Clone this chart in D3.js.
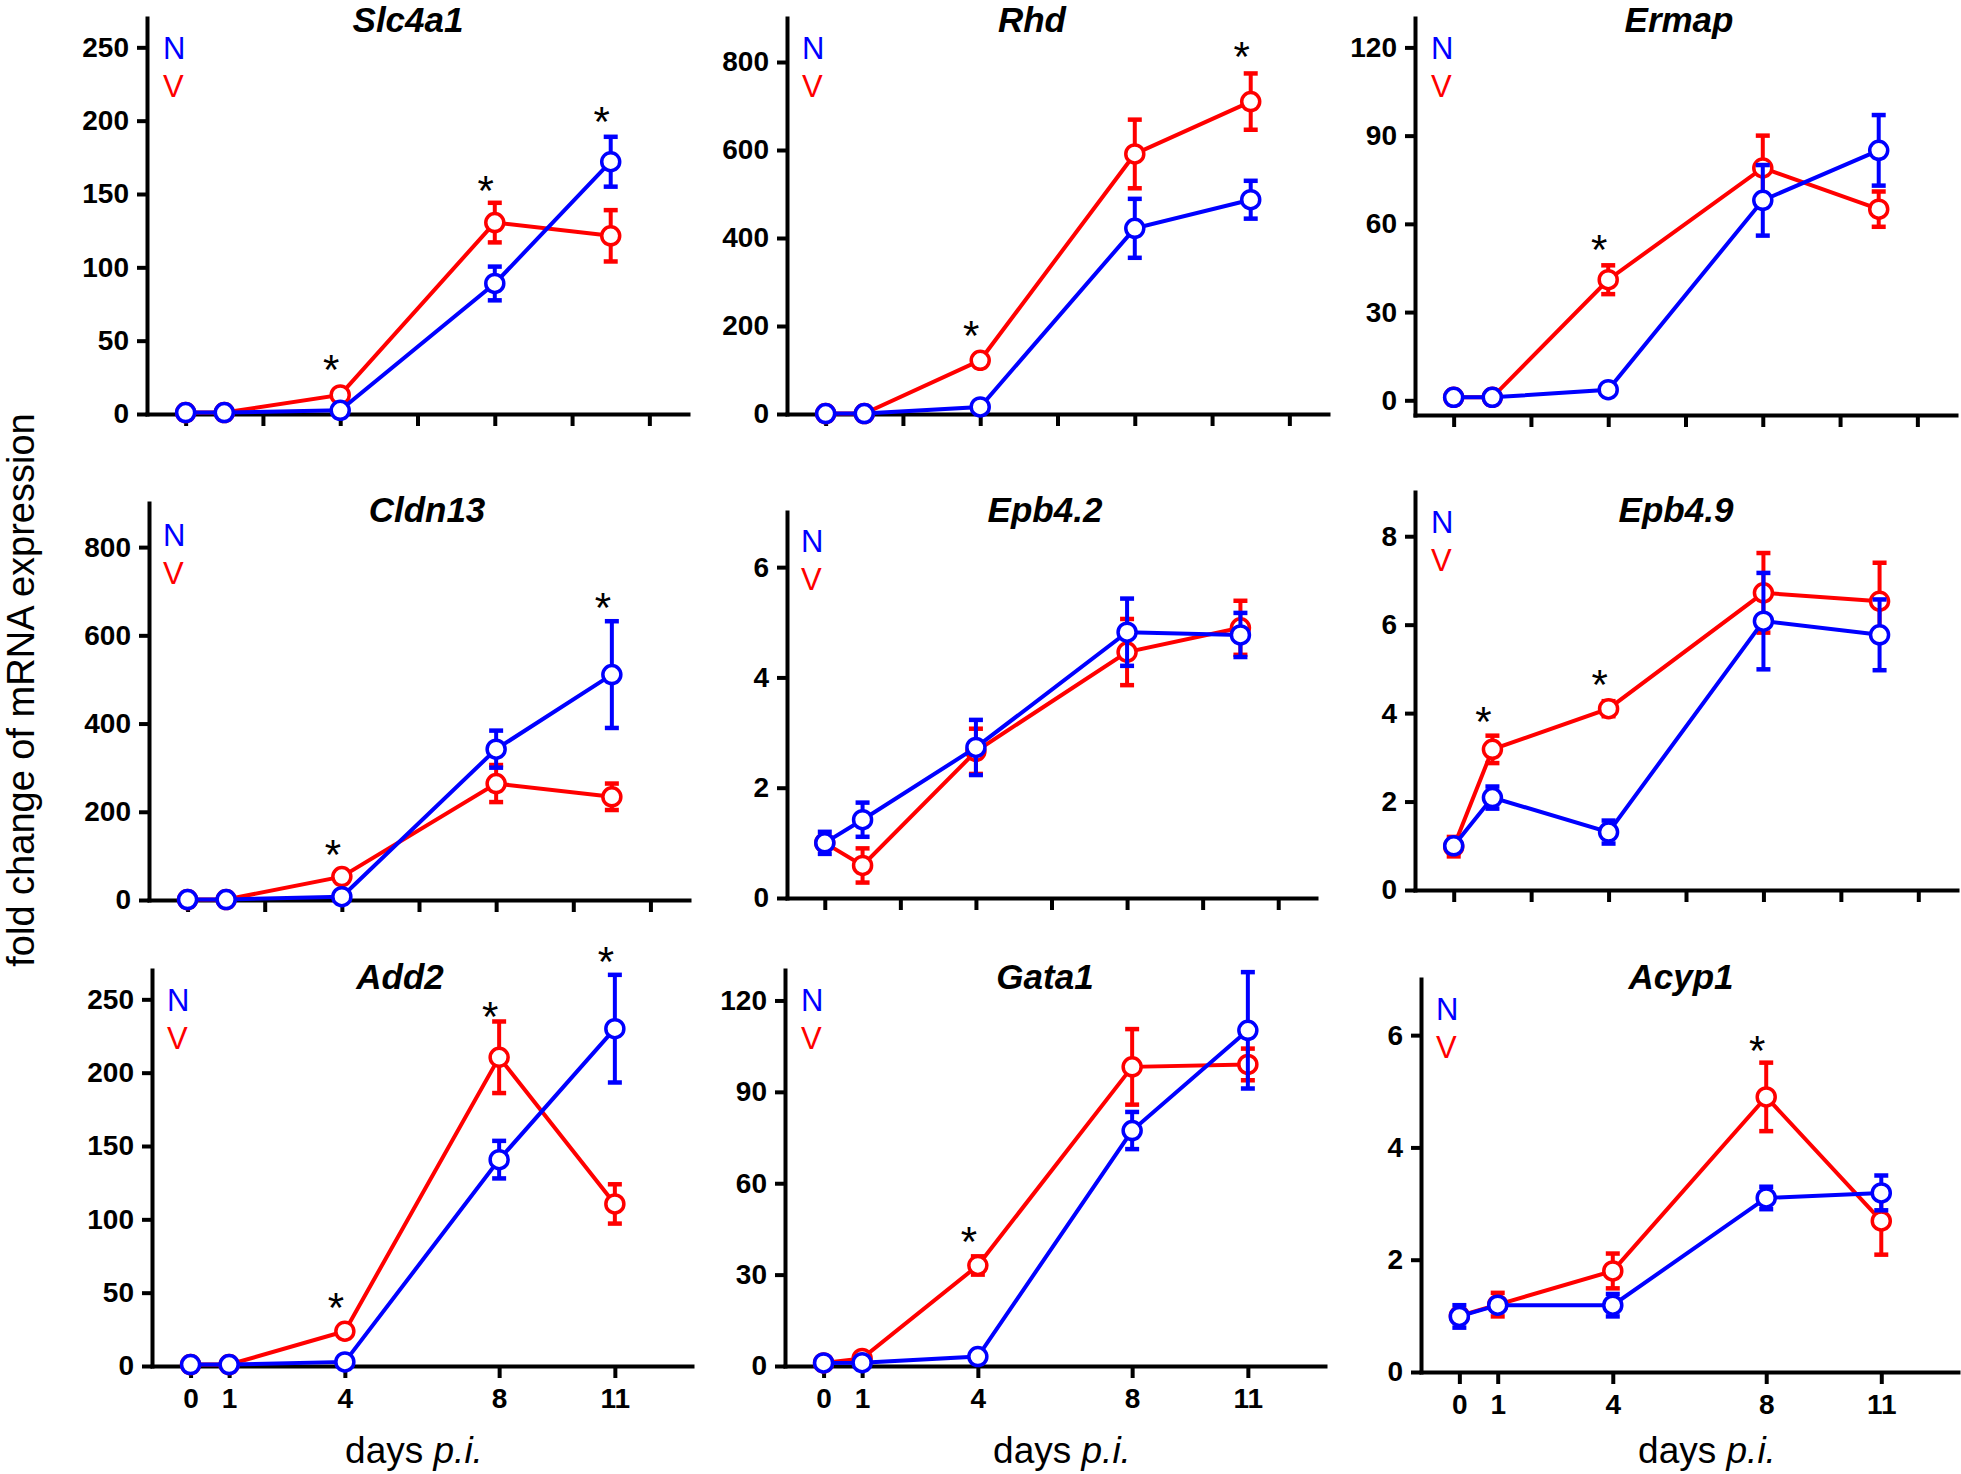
<!DOCTYPE html>
<html>
<head>
<meta charset="utf-8">
<script src="https://cdn.jsdelivr.net/npm/d3@7"></script>
<style>
  body { margin: 0; background: #fff; }
  svg { display: block; font-family: "Liberation Sans", Arial, sans-serif; }
</style>
</head>
<body>
<svg id="chart"></svg>
<script>
var W = 1961, H = 1474;

// sampling days and axis ticks
var days = [0, 1, 4, 8, 11];
var gridTicks = [0, 2, 4, 6, 8, 10, 12];
var dayLabels = ["0", "1", "4", "8", "11"];
var genes = ["Slc4a1", "Rhd", "Ermap", "Cldn13", "Epb4.2", "Epb4.9", "Add2", "Gata1", "Acyp1"];

// N = naive (blue), V = infected (red); means and error per day
var slc4a1N = [1, 1, 2.5, 89, 172],     slc4a1NErr = [0, 0, 0.5, 11.5, 17];
var slc4a1V = [1, 1, 13, 130.5, 121.5], slc4a1VErr = [0, 0, 1, 13.5, 17.5];
var slc4a1Stars = [[4, 37], [8, 159], [11, 206]];

var rhdN = [1, 1, 16, 422, 487],   rhdNErr = [0, 0, 2, 67, 43];
var rhdV = [1, 1, 122, 591, 710],  rhdVErr = [0, 0, 5, 78, 64];
var rhdStars = [[4, 200], [11, 834]];

var ermapN = [1, 1, 3.6, 68, 85],  ermapNErr = [0, 0, 0.5, 12, 12];
var ermapV = [1, 1, 41, 79, 65],   ermapVErr = [0, 0, 4.9, 11, 6];
var ermapStars = [[4, 54.6]];

var cldn13N = [1, 1, 7.6, 342, 511], cldn13NErr = [0, 0, 1, 42, 121];
var cldn13V = [1, 1, 53, 264, 234],  cldn13VErr = [0, 0, 4, 42, 30];
var cldn13Stars = [[4, 125], [11, 684]];

var epb42N = [1.0, 1.42, 2.73, 4.82, 4.77], epb42NErr = [0.2, 0.31, 0.5, 0.61, 0.4];
var epb42V = [1.0, 0.59, 2.66, 4.46, 4.9],  epb42VErr = [0.1, 0.31, 0.41, 0.6, 0.49];
var epb42Stars = [];

var epb49N = [1.0, 2.09, 1.31, 6.08, 5.77],  epb49NErr = [0.1, 0.25, 0.26, 1.09, 0.8];
var epb49V = [0.98, 3.18, 4.1, 6.72, 6.53],  epb49VErr = [0.22, 0.31, 0.17, 0.9, 0.87];
var epb49Stars = [[1, 4.02], [4, 4.87]];

var add2N = [1, 1, 2.8, 140.7, 230],    add2NErr = [0, 0, 0.5, 12.8, 36.7];
var add2V = [1, 1, 23.7, 210.5, 110.5], add2VErr = [0, 0, 1.5, 24.4, 13.4];
var add2Stars = [[4, 46.5], [8, 245], [11, 282]];

var gata1N = [1, 1.1, 3.1, 77.3, 110.2], gata1NErr = [0, 0, 0.3, 6.1, 19.1];
var gata1V = [1, 2.5, 33, 98.2, 99],     gata1VErr = [0, 0.3, 3, 12.4, 5.2];
var gata1Stars = [[4, 43.9]];

var acyp1N = [0.99, 1.19, 1.19, 3.1, 3.19], acyp1NErr = [0.2, 0.1, 0.2, 0.2, 0.31];
var acyp1V = [1.0, 1.2, 1.8, 4.9, 2.69],    acyp1VErr = [0.1, 0.21, 0.31, 0.61, 0.6];
var acyp1Stars = [[8, 5.9]];

// y-axis domains and ticks
var yDomains = [[0, 270], [0, 900], [-5, 130], [0, 900], [0, 7], [0, 9], [0, 270], [0, 130], [0, 7]];
var yTickSets = [
  [0, 50, 100, 150, 200, 250], [0, 200, 400, 600, 800], [0, 30, 60, 90, 120],
  [0, 200, 400, 600, 800], [0, 2, 4, 6], [0, 2, 4, 6, 8],
  [0, 50, 100, 150, 200, 250], [0, 30, 60, 90, 120], [0, 2, 4, 6]
];

var panels = [
  { n: slc4a1N, nErr: slc4a1NErr, v: slc4a1V, vErr: slc4a1VErr, stars: slc4a1Stars },
  { n: rhdN, nErr: rhdNErr, v: rhdV, vErr: rhdVErr, stars: rhdStars },
  { n: ermapN, nErr: ermapNErr, v: ermapV, vErr: ermapVErr, stars: ermapStars },
  { n: cldn13N, nErr: cldn13NErr, v: cldn13V, vErr: cldn13VErr, stars: cldn13Stars },
  { n: epb42N, nErr: epb42NErr, v: epb42V, vErr: epb42VErr, stars: epb42Stars },
  { n: epb49N, nErr: epb49NErr, v: epb49V, vErr: epb49VErr, stars: epb49Stars },
  { n: add2N, nErr: add2NErr, v: add2V, vErr: add2VErr, stars: add2Stars },
  { n: gata1N, nErr: gata1NErr, v: gata1V, vErr: gata1VErr, stars: gata1Stars },
  { n: acyp1N, nErr: acyp1NErr, v: acyp1V, vErr: acyp1VErr, stars: acyp1Stars }
];

// panel frames in pixels: y-axis x, axis width, top, bottom, title centre/baseline, legend pos
var layout = [
  { x0: 147, w: 541, top: 18,  bot: 414, tx: 408,  ty: 32,  lx: 163,  ly: 59 },
  { x0: 787, w: 541, top: 18,  bot: 414, tx: 1032, ty: 32,  lx: 802,  ly: 59 },
  { x0: 1415, w: 541, top: 18, bot: 415, tx: 1679, ty: 32,  lx: 1431, ly: 59 },
  { x0: 149, w: 540, top: 503, bot: 900, tx: 427,  ty: 522, lx: 163,  ly: 546 },
  { x0: 787, w: 529, top: 512, bot: 898, tx: 1045, ty: 522, lx: 801,  ly: 552 },
  { x0: 1415, w: 542, top: 492, bot: 890, tx: 1676, ty: 522, lx: 1431, ly: 533 },
  { x0: 152, w: 540, top: 970, bot: 1366, tx: 400, ty: 989, lx: 167,  ly: 1011 },
  { x0: 785, w: 540, top: 970, bot: 1366, tx: 1045, ty: 989, lx: 801, ly: 1011 },
  { x0: 1421, w: 537, top: 979, bot: 1372, tx: 1681, ty: 989, lx: 1436, ly: 1020 }
];
var xLabelPos = [[414, 1451], [1062, 1451], [1707, 1451]];

var blue = "#0000ff", red = "#ff0000";

var svg = d3.select("#chart").attr("width", W).attr("height", H);
svg.append("rect").attr("width", W).attr("height", H).attr("fill", "#fff");

function drawPanel(p, L, i) {
  var bottomRow = i >= 6;
  var x = d3.scaleLinear().domain([-1, 13]).range([L.x0, L.x0 + L.w]);
  var y = d3.scaleLinear().domain(yDomains[i]).range([L.bot, L.top]);
  var g = svg.append("g");

  // axes
  var yAxis = d3.axisLeft(y).tickValues(yTickSets[i]).tickFormat(d3.format("d"))
    .tickSize(10).tickSizeOuter(0).tickPadding(8);
  var gy = g.append("g").attr("transform", "translate(" + L.x0 + ",0)").call(yAxis);

  var xAxis = d3.axisBottom(x).tickSize(12).tickSizeOuter(0).tickPadding(10);
  if (bottomRow) {
    xAxis.tickValues(days).tickFormat(function(d, k) { return dayLabels[k]; });
  } else {
    xAxis.tickValues(gridTicks).tickFormat("");
  }
  var gx = g.append("g").attr("transform", "translate(0," + L.bot + ")").call(xAxis);

  [gx, gy].forEach(function(a) {
    a.select(".domain").attr("stroke", "#000").attr("stroke-width", 4).attr("stroke-linecap", "square");
    a.selectAll(".tick line").attr("stroke", "#000").attr("stroke-width", 4);
    a.selectAll(".tick text").attr("fill", "#000").style("font-size", "28px").style("font-weight", "bold");
  });

  // series: red (V) first, then blue (N) on top
  var series = [
    { vals: p.v, err: p.vErr, color: red },
    { vals: p.n, err: p.nErr, color: blue }
  ];
  var line = d3.line().x(function(d, k) { return x(days[k]); }).y(function(d) { return y(d); });

  series.forEach(function(s) {
    var sg = g.append("g");
    sg.append("path").datum(s.vals)
      .attr("d", line).attr("fill", "none")
      .attr("stroke", s.color).attr("stroke-width", 4);

    // error bars with caps
    var ebData = s.vals.map(function(v, k) { return { day: days[k], v: v, e: s.err[k] }; })
      .filter(function(d) { return d.e > 0; });
    var bars = sg.selectAll(".err").data(ebData).enter().append("g").attr("class", "err");
    bars.append("line")
      .attr("x1", function(d) { return x(d.day); }).attr("x2", function(d) { return x(d.day); })
      .attr("y1", function(d) { return y(d.v - d.e); }).attr("y2", function(d) { return y(d.v + d.e); })
      .attr("stroke", s.color).attr("stroke-width", 4);
    [-1, 1].forEach(function(sign) {
      bars.append("line")
        .attr("x1", function(d) { return x(d.day) - 7; }).attr("x2", function(d) { return x(d.day) + 7; })
        .attr("y1", function(d) { return y(d.v + sign * d.e); }).attr("y2", function(d) { return y(d.v + sign * d.e); })
        .attr("stroke", s.color).attr("stroke-width", 4.5);
    });

    sg.selectAll("circle").data(s.vals).enter().append("circle")
      .attr("cx", function(d, k) { return x(days[k]); })
      .attr("cy", function(d) { return y(d); })
      .attr("r", 9)
      .attr("fill", "#fff")
      .attr("stroke", s.color).attr("stroke-width", 3.5);
  });

  // significance stars
  g.selectAll(".star").data(p.stars).enter().append("text")
    .attr("x", function(d) { return x(d[0]) - 9; })
    .attr("y", function(d) { return y(d[1]) + 24; })
    .attr("text-anchor", "middle")
    .style("font-size", "42px")
    .attr("fill", "#000")
    .text("*");

  // title
  g.append("text").attr("x", L.tx).attr("y", L.ty)
    .attr("text-anchor", "middle")
    .style("font-size", "35px").style("font-weight", "bold").style("font-style", "italic")
    .text(genes[i]);

  // legend
  g.append("text").attr("x", L.lx).attr("y", L.ly)
    .style("font-size", "31px").attr("fill", blue).text("N");
  g.append("text").attr("x", L.lx).attr("y", L.ly + 38)
    .style("font-size", "31px").attr("fill", red).text("V");
}

panels.forEach(function(p, i) { drawPanel(p, layout[i], i); });

// x-axis titles
xLabelPos.forEach(function(pos) {
  var t = svg.append("text").attr("x", pos[0]).attr("y", pos[1] + 12)
    .attr("text-anchor", "middle").style("font-size", "37px");
  t.append("tspan").text("days ");
  t.append("tspan").style("font-style", "italic").text("p.i.");
});

// shared y-axis title
svg.append("text")
  .attr("transform", "translate(34,690) rotate(-90)")
  .attr("text-anchor", "middle")
  .style("font-size", "38px")
  .text("fold change of mRNA expression");
</script>
</body>
</html>
